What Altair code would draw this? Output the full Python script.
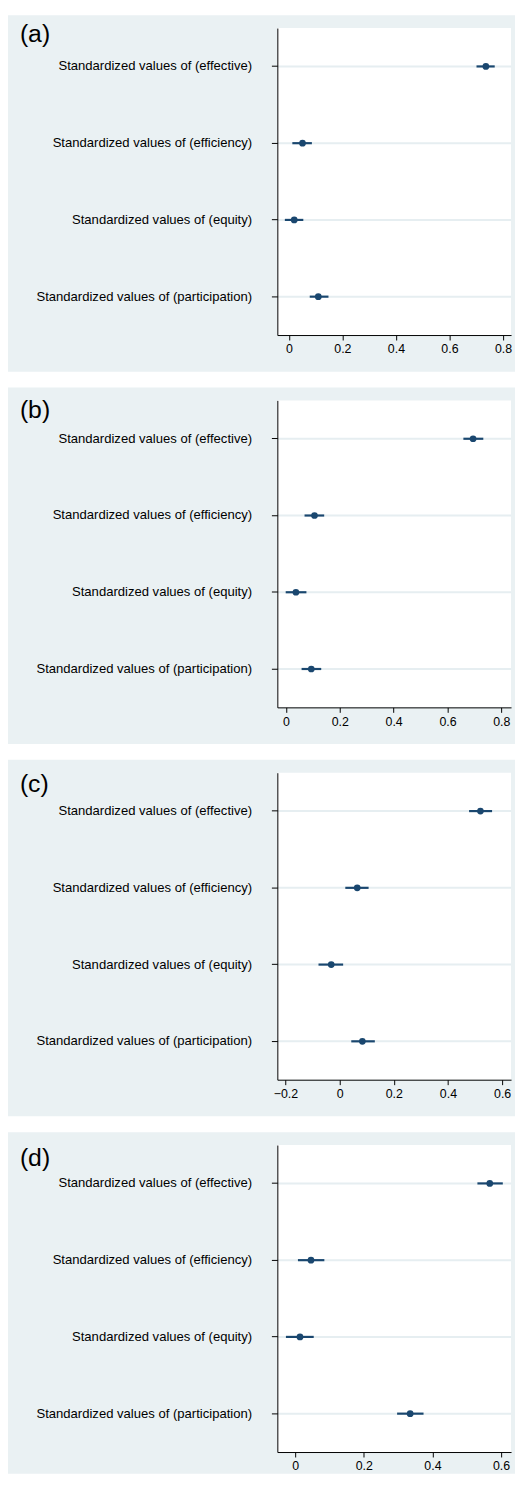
import altair as alt
import pandas as pd

# ---- data ----
categories = [
    "Standardized values of (effective)",
    "Standardized values of (efficiency)",
    "Standardized values of (equity)",
    "Standardized values of (participation)",
]
panel_labels = ["(a)", "(b)", "(c)", "(d)"]

est_a = [0.736, 0.051, 0.020, 0.110]
lo_a = [0.701, 0.013, -0.015, 0.078]
hi_a = [0.769, 0.086, 0.054, 0.148]

est_b = [0.695, 0.106, 0.037, 0.094]
lo_b = [0.659, 0.069, -0.001, 0.058]
hi_b = [0.733, 0.142, 0.076, 0.131]

est_c = [0.520, 0.065, -0.031, 0.084]
lo_c = [0.478, 0.021, -0.078, 0.043]
hi_c = [0.563, 0.107, 0.013, 0.130]

est_d = [0.567, 0.046, 0.014, 0.335]
lo_d = [0.531, 0.008, -0.027, 0.297]
hi_d = [0.605, 0.085, 0.054, 0.374]

domain_a = [-0.043, 0.830]
domain_b = [-0.032, 0.836]
domain_c = [-0.230, 0.633]
domain_d = [-0.052, 0.629]

ticks_a = [0, 0.2, 0.4, 0.6, 0.8]
ticks_b = [0, 0.2, 0.4, 0.6, 0.8]
ticks_c = [-0.2, 0, 0.2, 0.4, 0.6]
ticks_d = [0, 0.2, 0.4, 0.6]

# ---- style ----
BG = "#eaf1f3"
GRID = "#e6eef1"
NAVY = "#1a476f"
FONT = "Liberation Sans"
W = 236
H = 310


def panel(label, est, lo, hi, domain, ticks, label_y, bottom_ext):
    df = pd.DataFrame({"cat": categories, "est": est, "lo": lo, "hi": hi})
    one = pd.DataFrame({"k": [label]})

    yenc = alt.Y(
        "cat:N",
        sort=categories,
        title=None,
        axis=alt.Axis(
            tickSize=6,
            labelFontSize=13.2,
            labelPadding=20,
            labelLimit=400,
            labelFont=FONT,
            labelColor="black",
            domainColor="black",
            tickColor="black",
            grid=False,
            zindex=2,
        ),
    )
    xscale = alt.Scale(domain=domain, nice=False, zero=False)
    xaxis = alt.Axis(
        values=ticks,
        format=".1~f",
        tickSize=5,
        labelFontSize=12.5,
        labelPadding=3,
        labelFont=FONT,
        labelColor="black",
        domainColor="black",
        tickColor="black",
        grid=False,
        zindex=2,
    )

    bg = alt.Chart(one).mark_rect(color=BG).encode(
        x=alt.value(-272), x2=alt.value(W + 4),
        y=alt.value(-13), y2=alt.value(H + bottom_ext),
    )
    white = alt.Chart(one).mark_rect(color="white").encode(
        x=alt.value(0), x2=alt.value(W), y=alt.value(0), y2=alt.value(H)
    )
    grid = alt.Chart(df).mark_rule(color=GRID, strokeWidth=2).encode(
        y=yenc, x=alt.value(0), x2=alt.value(W)
    )
    ci = alt.Chart(df).mark_rule(color=NAVY, strokeWidth=2.2).encode(
        y=yenc,
        x=alt.X("lo:Q", scale=xscale, axis=xaxis, title=None),
        x2="hi:Q",
    )
    pt = alt.Chart(df).mark_circle(color=NAVY, size=46, opacity=1).encode(
        y=yenc,
        x=alt.X("est:Q", scale=xscale, axis=xaxis, title=None),
    )
    txt = alt.Chart(one).mark_text(
        font=FONT, fontSize=25, color="black", align="left", baseline="alphabetic"
    ).encode(x=alt.value(-260), y=alt.value(label_y), text="k:N")

    return alt.layer(bg, white, grid, ci, pt, txt).properties(width=W, height=H)


pa = panel(panel_labels[0], est_a, lo_a, hi_a, domain_a, ticks_a, 14, 37)
pb = panel(panel_labels[1], est_b, lo_b, hi_b, domain_b, ticks_b, 18, 37)
pc = panel(panel_labels[2], est_c, lo_c, hi_c, domain_c, ticks_c, 19, 37)
pd_ = panel(panel_labels[3], est_d, lo_d, hi_d, domain_d, ticks_d, 21, 22)

chart = (
    alt.vconcat(pa, pb, pc, pd_, spacing=66, bounds="flush")
    .properties(padding={"left": 0, "top": 0, "right": 0, "bottom": 0}, background="white")
    .configure_view(stroke=None)
)

chart.save("out.html", embed_options={"renderer": "svg", "actions": False})
